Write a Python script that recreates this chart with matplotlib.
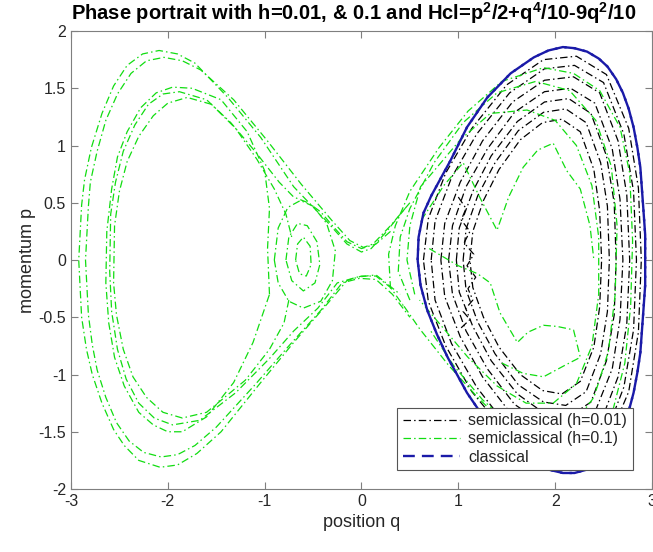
import matplotlib
matplotlib.use("Agg")
import matplotlib.pyplot as plt

plt.rcParams['font.family'] = ['Liberation Sans', 'DejaVu Sans']
plt.rcParams['axes.unicode_minus'] = False
plt.rcParams['mathtext.default'] = 'regular'

# classical orbit (q, p)
classical = [(0.58, 0.00), (0.59, 0.20), (0.64, 0.41), (0.72, 0.56), (0.81, 0.70), (0.92, 0.87),
             (1.09, 1.16), (1.30, 1.42), (1.54, 1.63), (1.78, 1.77), (1.93, 1.83), (2.08, 1.86),
             (2.20, 1.85), (2.33, 1.82), (2.45, 1.76), (2.54, 1.69), (2.63, 1.58), (2.70, 1.46),
             (2.76, 1.32), (2.81, 1.16), (2.85, 0.98), (2.88, 0.81), (2.91, 0.46), (2.93, 0.22),
             (2.93, 0.00), (2.93, -0.22), (2.91, -0.46), (2.88, -0.81), (2.85, -0.98), (2.81, -1.16),
             (2.76, -1.32), (2.70, -1.46), (2.63, -1.59), (2.54, -1.70), (2.45, -1.77), (2.33, -1.83),
             (2.20, -1.86), (2.08, -1.86), (1.93, -1.83), (1.78, -1.77), (1.54, -1.63), (1.30, -1.42),
             (1.09, -1.16), (0.89, -0.85), (0.78, -0.65), (0.68, -0.44), (0.61, -0.22), (0.58, 0.00)]

# semiclassical h=0.01 (black) loops
black_1 = [(0.64, 0), (0.69, 0.36), (0.87, 0.76), (1.14, 1.15), (1.50, 1.53), (1.88, 1.75), (2.22, 1.78),
           (2.53, 1.62), (2.76, 1.15), (2.86, 0.63), (2.89, 0), (2.86, -0.63), (2.76, -1.15), (2.53, -1.61),
           (2.22, -1.77), (1.88, -1.74), (1.50, -1.52), (1.14, -1.15), (0.87, -0.75), (0.69, -0.36), (0.64, 0)]
black_2 = [(0.72, 0), (0.76, 0.34), (0.93, 0.72), (1.19, 1.10), (1.53, 1.46), (1.89, 1.67), (2.20, 1.70),
           (2.50, 1.55), (2.71, 1.10), (2.81, 0.60), (2.84, 0), (2.81, -0.61), (2.71, -1.11), (2.50, -1.57),
           (2.20, -1.72), (1.89, -1.69), (1.53, -1.48), (1.19, -1.11), (0.93, -0.73), (0.76, -0.35), (0.72, 0)]
black_3 = [(0.82, 0), (0.86, 0.32), (1.02, 0.68), (1.25, 1.04), (1.56, 1.38), (1.89, 1.57), (2.19, 1.60),
           (2.46, 1.46), (2.65, 1.04), (2.74, 0.57), (2.77, 0), (2.74, -0.56), (2.65, -1.02), (2.46, -1.44),
           (2.19, -1.58), (1.89, -1.55), (1.56, -1.36), (1.25, -1.02), (1.02, -0.67), (0.86, -0.32), (0.82, 0)]
black_4 = [(0.90, 0), (0.94, 0.30), (1.08, 0.64), (1.30, 0.97), (1.58, 1.29), (1.89, 1.47), (2.16, 1.50),
           (2.41, 1.37), (2.59, 0.97), (2.67, 0.53), (2.70, 0), (2.67, -0.52), (2.59, -0.95), (2.41, -1.33),
           (2.16, -1.47), (1.89, -1.44), (1.58, -1.26), (1.30, -0.95), (1.08, -0.62), (0.94, -0.30), (0.90, 0)]
black_5 = [(0.98, 0), (1.01, 0.28), (1.15, 0.60), (1.34, 0.91), (1.61, 1.21), (1.89, 1.38), (2.14, 1.41),
           (2.37, 1.28), (2.53, 0.91), (2.61, 0.50), (2.63, 0), (2.61, -0.48), (2.53, -0.88), (2.37, -1.24),
           (2.14, -1.37), (1.89, -1.34), (1.61, -1.17), (1.34, -0.88), (1.15, -0.58), (1.01, -0.28), (0.98, 0)]
black_6 = [(1.05, 0), (1.08, 0.27), (1.20, 0.56), (1.38, 0.85), (1.62, 1.13), (1.88, 1.29), (2.11, 1.32),
           (2.32, 1.20), (2.47, 0.85), (2.54, 0.47), (2.56, 0), (2.54, -0.45), (2.47, -0.82), (2.32, -1.15),
           (2.11, -1.27), (1.88, -1.24), (1.62, -1.09), (1.38, -0.82), (1.20, -0.54), (1.08, -0.26), (1.05, 0)]
black_7 = [(1.12, 0), (1.15, 0.25), (1.26, 0.52), (1.42, 0.79), (1.64, 1.05), (1.87, 1.20), (2.07, 1.23),
           (2.26, 1.12), (2.40, 0.79), (2.46, 0.43), (2.48, 0), (2.46, -0.41), (2.40, -0.76), (2.26, -1.06),
           (2.07, -1.17), (1.87, -1.14), (1.64, -1.00), (1.42, -0.76), (1.26, -0.50), (1.15, -0.24), (1.12, 0)]
black_squiggle = [(1.00, 0.55), (1.08, 0.45), (1.03, 0.35), (1.12, 0.25), (1.06, 0.15), (1.16, 0.05),
                  (1.09, -0.05), (1.18, -0.15), (1.10, -0.25), (1.15, -0.35), (1.05, -0.45), (1.12, -0.52),
                  (1.02, -0.60)]

# semiclassical h=0.1 (green) pieces
green_outer_1 = [(0.45, 0.45), (0.25, 0.24), (0.10, 0.10), (0.00, 0.07), (-0.15, 0.14), (-0.35, 0.33),
                 (-0.70, 0.64), (-1.04, 1.07), (-1.38, 1.42), (-1.72, 1.72), (-1.90, 1.80), (-2.09, 1.83),
                 (-2.26, 1.80), (-2.42, 1.70), (-2.56, 1.52), (-2.68, 1.28), (-2.79, 0.98), (-2.86, 0.70),
                 (-2.89, 0.48), (-2.92, 0.0), (-2.89, -0.50), (-2.84, -0.78), (-2.78, -1.00), (-2.68, -1.25),
                 (-2.56, -1.48), (-2.45, -1.62), (-2.30, -1.75), (-2.08, -1.81), (-1.90, -1.79),
                 (-1.70, -1.69), (-1.45, -1.50), (-1.05, -1.08), (-0.70, -0.72), (-0.35, -0.38),
                 (-0.15, -0.18), (0.00, -0.14), (0.15, -0.14), (0.30, -0.24), (0.45, -0.42)]
green_outer_2 = [(0.50, 0.50), (0.30, 0.30), (0.12, 0.14), (0.02, 0.11), (-0.12, 0.17), (-0.30, 0.34),
                 (-0.62, 0.66), (-0.98, 1.05), (-1.32, 1.40), (-1.66, 1.66), (-1.85, 1.74), (-2.04, 1.77),
                 (-2.22, 1.74), (-2.38, 1.63), (-2.52, 1.45), (-2.64, 1.22), (-2.73, 0.95), (-2.80, 0.68),
                 (-2.82, 0.47), (-2.85, 0.0), (-2.82, -0.48), (-2.78, -0.74), (-2.73, -0.96), (-2.64, -1.20),
                 (-2.53, -1.42), (-2.40, -1.58), (-2.25, -1.68), (-2.07, -1.72), (-1.90, -1.70),
                 (-1.72, -1.62), (-1.50, -1.46), (-1.10, -1.09), (-0.75, -0.75), (-0.42, -0.44),
                 (-0.20, -0.20), (-0.02, -0.16), (0.15, -0.17), (0.32, -0.30), (0.50, -0.50)]
green_inner_1 = [(-0.95, -0.30), (-0.97, 0.10), (-0.95, 0.45), (-1.00, 0.78), (-1.18, 1.12), (-1.45, 1.40),
                 (-1.75, 1.50), (-1.95, 1.51), (-2.12, 1.46), (-2.28, 1.33), (-2.42, 1.12), (-2.52, 0.90),
                 (-2.58, 0.62), (-2.63, 0.25), (-2.64, -0.20), (-2.61, -0.55), (-2.55, -0.85),
                 (-2.45, -1.10), (-2.30, -1.33), (-2.15, -1.44), (-2.00, -1.50), (-1.85, -1.50),
                 (-1.60, -1.37), (-1.32, -1.07), (-1.12, -0.72), (-0.95, -0.30)]
green_inner_2 = [(0.30, 0.25), (0.15, 0.14), (0.00, 0.10), (-0.15, 0.16), (-0.30, 0.30), (-0.42, 0.42),
                 (-0.55, 0.50), (-0.70, 0.55), (-0.85, 0.68), (-1.10, 0.95), (-1.35, 1.20), (-1.60, 1.40),
                 (-1.88, 1.47), (-2.05, 1.45), (-2.20, 1.36), (-2.34, 1.18), (-2.46, 0.95), (-2.54, 0.68),
                 (-2.59, 0.40), (-2.60, -0.10), (-2.58, -0.45), (-2.52, -0.78), (-2.43, -1.04),
                 (-2.30, -1.25), (-2.14, -1.38), (-1.95, -1.44), (-1.67, -1.40), (-1.30, -1.16),
                 (-0.95, -0.86), (-0.70, -0.62), (-0.45, -0.42), (-0.25, -0.20), (-0.05, -0.15),
                 (0.15, -0.13), (0.40, -0.30)]
green_inner_3 = [(-0.75, -0.35), (-0.80, -0.55), (-0.95, -0.78), (-1.20, -1.05), (-1.60, -1.33),
                 (-1.85, -1.38), (-2.05, -1.33), (-2.22, -1.20), (-2.36, -1.02), (-2.46, -0.78),
                 (-2.53, -0.48), (-2.56, -0.20), (-2.55, 0.30), (-2.50, 0.60), (-2.42, 0.86),
                 (-2.30, 1.08), (-2.15, 1.26), (-2.00, 1.37), (-1.80, 1.42), (-1.55, 1.36), (-1.30, 1.15),
                 (-1.08, 0.88), (-0.90, 0.62), (-0.78, 0.40), (-0.72, 0.20)]
green_small_1 = [(-0.90, 0.0), (-0.86, 0.28), (-0.76, 0.46), (-0.63, 0.52), (-0.50, 0.47), (-0.36, 0.32),
                 (-0.27, 0.08), (-0.30, -0.18), (-0.42, -0.36), (-0.60, -0.42), (-0.75, -0.36),
                 (-0.86, -0.20), (-0.90, 0.0)]
green_small_2 = [(-0.78, 0.0), (-0.75, 0.20), (-0.66, 0.32), (-0.56, 0.30), (-0.46, 0.16), (-0.43, -0.04),
                 (-0.48, -0.20), (-0.60, -0.27), (-0.72, -0.18), (-0.78, 0.0)]
green_small_3 = [(-0.68, 0.0), (-0.66, 0.14), (-0.60, 0.20), (-0.53, 0.12), (-0.52, -0.04), (-0.57, -0.14),
                 (-0.64, -0.12), (-0.68, 0.0)]
green_right_1 = [(0.30, -0.25), (0.28, 0.05), (0.35, 0.30), (0.50, 0.60), (0.80, 0.98), (1.10, 1.30),
                 (1.45, 1.56), (1.88, 1.68), (2.19, 1.63), (2.46, 1.48), (2.67, 1.16), (2.77, 0.76),
                 (2.80, 0.17), (2.78, -0.40), (2.72, -0.90), (2.60, -1.30), (2.38, -1.58), (2.10, -1.68),
                 (1.80, -1.62), (1.50, -1.45), (1.20, -1.20), (0.90, -0.92), (0.60, -0.60), (0.42, -0.38)]
green_right_2 = [(0.50, -0.35), (0.38, -0.10), (0.40, 0.20), (0.50, 0.45), (0.75, 0.85), (1.05, 1.20),
                 (1.40, 1.46), (1.80, 1.56), (2.15, 1.48), (2.42, 1.22), (2.58, 0.82), (2.64, 0.30),
                 (2.62, -0.30), (2.55, -0.80), (2.40, -1.20), (2.15, -1.48), (1.85, -1.55), (1.55, -1.45),
                 (1.25, -1.22), (0.95, -0.92), (0.70, -0.60)]
green_right_3 = [(0.55, -0.30), (0.47, 0.0), (0.50, 0.30), (0.61, 0.64), (1.02, 1.05), (1.33, 1.28),
                 (1.71, 1.31), (2.00, 1.22), (2.22, 1.00), (2.38, 0.65), (2.45, 0.20), (2.45, -0.30),
                 (2.38, -0.75), (2.22, -1.08), (1.98, -1.25), (1.70, -1.25), (1.40, -1.10), (1.10, -0.85),
                 (0.80, -0.55), (0.60, -0.35)]
green_wiggle_top = [(0.62, 0.35), (0.85, 0.65), (1.05, 0.85), (1.22, 0.55), (1.40, 0.26), (1.52, 0.55),
                    (1.67, 0.81), (1.82, 0.96), (1.98, 1.02), (2.12, 0.78), (2.26, 0.62), (2.36, 0.30),
                    (2.40, 0.0)]
green_wiggle_bot = [(0.70, 0.10), (1.00, -0.05), (1.20, -0.12), (1.33, -0.20), (1.43, -0.46), (1.61, -0.72),
                    (1.72, -0.63), (1.88, -0.57), (2.02, -0.58), (2.19, -0.61), (2.26, -0.85), (2.10, -0.92),
                    (1.88, -1.02), (1.67, -0.99), (1.45, -0.90)]

black_curves = [black_1, black_2, black_3, black_4, black_5, black_6, black_7, black_squiggle]
green_curves = [green_outer_1, green_outer_2, green_inner_1, green_inner_2, green_inner_3,
                green_small_1, green_small_2, green_small_3, green_right_1, green_right_2,
                green_right_3, green_wiggle_top, green_wiggle_bot]

x_ticks = [-3, -2, -1, 0, 1, 2, 3]
y_ticks = [-2, -1.5, -1, -0.5, 0, 0.5, 1, 1.5, 2]
y_tick_labels = ['-2', '-1.5', '-1', '-0.5', '0', '0.5', '1', '1.5', '2']

dashdot = (0, (6, 2.5, 1.2, 2.5))
text_col = '#262626'
axis_col = '#7f7f7f'

fig = plt.figure(figsize=(6.53, 5.52), dpi=100)
ax = fig.add_axes([0.1087, 0.1141, 0.8897, 0.8297])


def draw(curves, color, lw, label):
    for i, c in enumerate(curves):
        q, p = zip(*c)
        ax.plot(q, p, color=color, lw=lw, linestyle=dashdot, label=label if i == 0 else None)


draw(black_curves, 'black', 0.9, 'semiclassical (h=0.01)')
draw(green_curves, '#11dd11', 0.9, 'semiclassical (h=0.1)')

cq, cp = zip(*classical)
ax.plot(cq, cp, color='#1a1aa8', lw=1.7, linestyle=(0, (5, 3)), label='classical')
ax.plot(cq, cp, color='#1a1aa8', lw=1.7, linestyle=(4, (5, 3)))

ax.set_xlim(-3, 3)
ax.set_ylim(-2, 2)
ax.set_xticks(x_ticks)
ax.set_yticks(y_ticks)
ax.set_yticklabels(y_tick_labels)
ax.tick_params(direction='in', top=True, right=True, length=5, width=0.8,
               colors=axis_col, labelcolor=text_col, labelsize=11.5)
for s in ax.spines.values():
    s.set_color(axis_col)
    s.set_linewidth(0.8)

ax.set_xlabel('position q', fontsize=13, color=text_col, labelpad=4)
ax.set_ylabel('momentum p', fontsize=13, color=text_col, labelpad=2)
fig.text(0.541, 0.976, 'Phase portrait with h=0.01, & 0.1 and Hcl=p$^2$/2+q$^4$/10-9q$^2$/10',
         fontsize=14.5, fontweight='bold', color='black', ha='center', va='center')

leg = ax.legend(loc='lower right', bbox_to_anchor=(0.967, 0.041), borderaxespad=0,
                fontsize=11.5, handlelength=3.6, labelspacing=0.2, borderpad=0.35,
                handletextpad=0.5, fancybox=False, framealpha=1, edgecolor='#555555')
leg.get_frame().set_linewidth(0.8)
for t in leg.get_texts():
    t.set_color(text_col)

fig.savefig('out.png', dpi=100)
